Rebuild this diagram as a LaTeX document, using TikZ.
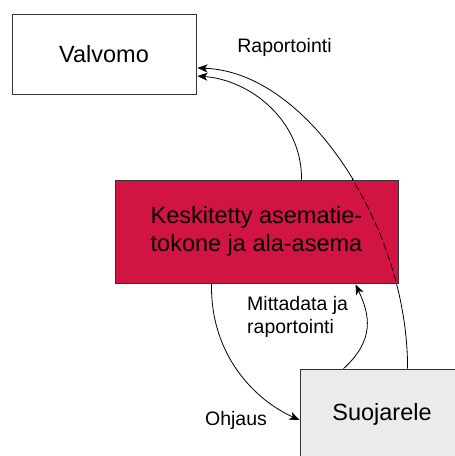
\documentclass[tikz,border=0pt]{standalone}
\usepackage{fontspec}
\setmainfont{Liberation Sans}
\usetikzlibrary{arrows.meta,calc}

\definecolor{stationred}{HTML}{D21443}
\definecolor{relaygray}{HTML}{EBEBEB}

\tikzset{
  box/.style={draw=black!80, line width=0.9pt, inner sep=0pt,
    font=\fontsize{23.5}{28}\selectfont},
  conn/.style={draw=black, line width=0.8pt,
    -{Stealth[length=10pt,width=8pt,inset=2.5pt]}},
  lbl/.style={inner sep=0pt, font=\fontsize{19.5}{23}\selectfont},
}

\begin{document}
\begin{tikzpicture}[x=1pt,y=-1pt]
  \useasboundingbox (0,0) rectangle (455,456);

  % control room and protection relay
  \node[box, fill=white, minimum width=184pt, minimum height=80pt] (valvomo) at (104,54) {Valvomo};
  \node[box, fill=relaygray, minimum width=164pt, minimum height=90pt] (suoja) at (382,414) {Suojarele};

  % relay reports straight to the control room (passes behind the station box)
  \draw[conn] ($(suoja.north west)+(108,0)$) .. controls (408,230) and (310,72) .. ($(valvomo.east)+(1,14)$);

  % station computer box
  \node[box, fill=stationred, minimum width=283pt, minimum height=103pt, align=left] (kesk) at (256.5,231.5)
    {Keskitetty asematie-\\tokone ja ala-asema};

  % hidden part of the relay report shown dashed
  \begin{scope}
    \clip (kesk.south west) rectangle (kesk.north east);
    \draw[black, line width=0.8pt, dash pattern=on 8pt off 3pt]
      ($(suoja.north west)+(108,0)$) .. controls (408,230) and (310,72) .. ($(valvomo.east)+(1,14)$);
  \end{scope}

  % station computer reports to the control room
  \draw[conn] ($(kesk.north west)+(187,0)$) .. controls (302,120) and (250,80) .. ($(valvomo.east)+(1,22)$);

  % control commands to the relay
  \draw[conn] ($(kesk.south west)+(97,0)$) .. controls (210,355) and (255,400) .. ($(suoja.west)+(0,6)$);

  % measurements and reports from the relay
  \draw[conn] ($(suoja.north west)+(44,0)$) .. controls (375,340) and (370,315) .. ($(kesk.south west)+(241,1)$);

  % labels
  \node[lbl, anchor=base] (lrap) at (284.5,52) {Raportointi};
  \node[lbl, anchor=base west, align=left] (lmit) at (247,333) {Mittadata ja\\raportointi};
  \node[lbl, anchor=base] (lohj) at (236,425) {Ohjaus};
\end{tikzpicture}
\end{document}
